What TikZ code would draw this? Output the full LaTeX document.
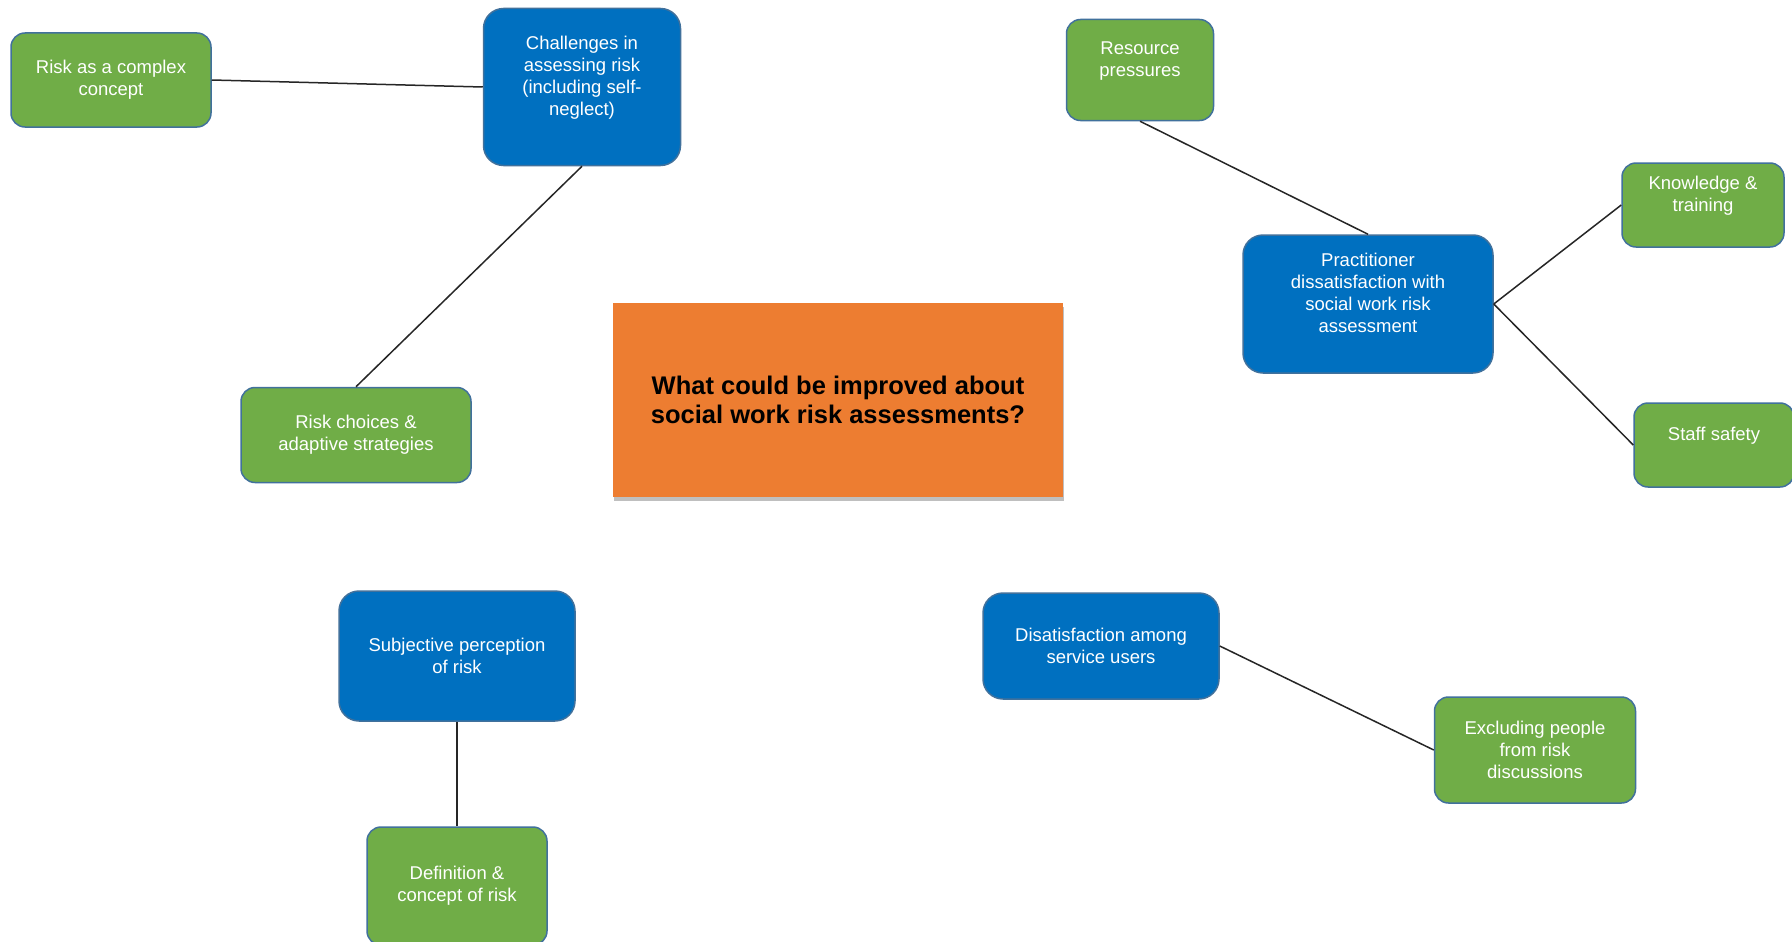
\documentclass[tikz,border=0pt]{standalone}
\usepackage{fontspec}
\setmainfont{Liberation Sans}
\usetikzlibrary{shadows}
\definecolor{gfill}{HTML}{70AD47}
\definecolor{bfill}{HTML}{0070C0}
\definecolor{ofill}{HTML}{ED7D31}
\definecolor{edgec}{HTML}{41719C}
\tikzset{
  box/.style={draw=edgec, line width=1.5pt, text=white, align=center,
    inner sep=0pt, font=\fontsize{18.5}{22}\selectfont},
  gbox/.style={box, fill=gfill, rounded corners=14pt},
  bbox/.style={box, fill=bfill, rounded corners=20pt},
  centralbox/.style={fill=ofill, align=center,
    inner sep=0pt, font=\fontsize{25.5}{29.5}\selectfont\bfseries, text=black,
    drop shadow={shadow xshift=1pt, shadow yshift=-4pt, opacity=0.55, fill=black!45}},
  link/.style={draw=black!85, line width=1.5pt}
}
\newcommand{\xline}{\\\mbox{}}
\begin{document}
\begin{tikzpicture}[x=1pt,y=-1pt]
\useasboundingbox[fill=white] (0,0) rectangle (1792,942);

\node[centralbox, minimum width=450pt, minimum height=194pt] (q) at (838,400)
  {What could be improved about\\social work risk assessments?};

\node[gbox, minimum width=200pt, minimum height=94pt] (rc) at (111,80)
  {Risk as a complex\\concept};
\node[bbox, minimum width=197pt, minimum height=157pt] (ch) at (582,87)
  {Challenges in\\assessing risk\\(including self-\\neglect)\xline};
\node[gbox, minimum width=230pt, minimum height=95pt] (rs) at (356,435)
  {Risk choices \&\\adaptive strategies};

\node[gbox, minimum width=147pt, minimum height=101pt] (rp) at (1140,70)
  {Resource\\pressures\xline};
\node[bbox, minimum width=250pt, minimum height=138pt] (pd) at (1368,304)
  {Practitioner\\dissatisfaction with\\social work risk\\assessment\xline};
\node[gbox, minimum width=162pt, minimum height=84pt] (kt) at (1703,205)
  {Knowledge \&\\training\xline};
\node[gbox, minimum width=160pt, minimum height=84pt] (ss) at (1714,445)
  {Staff safety\xline};

\node[bbox, minimum width=236pt, minimum height=130pt] (sp) at (457,656)
  {Subjective perception\\of risk};
\node[gbox, minimum width=180pt, minimum height=118pt] (dc) at (457,886)
  {Definition \&\\concept of risk};

\node[bbox, minimum width=236pt, minimum height=106pt] (ds) at (1101,646)
  {Disatisfaction among\\service users};
\node[gbox, minimum width=201pt, minimum height=106pt] (ex) at (1535,750)
  {Excluding people\\from risk\\discussions};

\path[link] (rc.east) -- (ch.west);
\path[link] (ch.south) -- (rs.north);
\path[link] (rp.south) -- (pd.north);
\path[link] (pd.east) -- (kt.west);
\path[link] (pd.east) -- (ss.west);
\path[link] (sp.south) -- (dc.north);
\path[link] (ds.east) -- (ex.west);
\end{tikzpicture}
\end{document}
